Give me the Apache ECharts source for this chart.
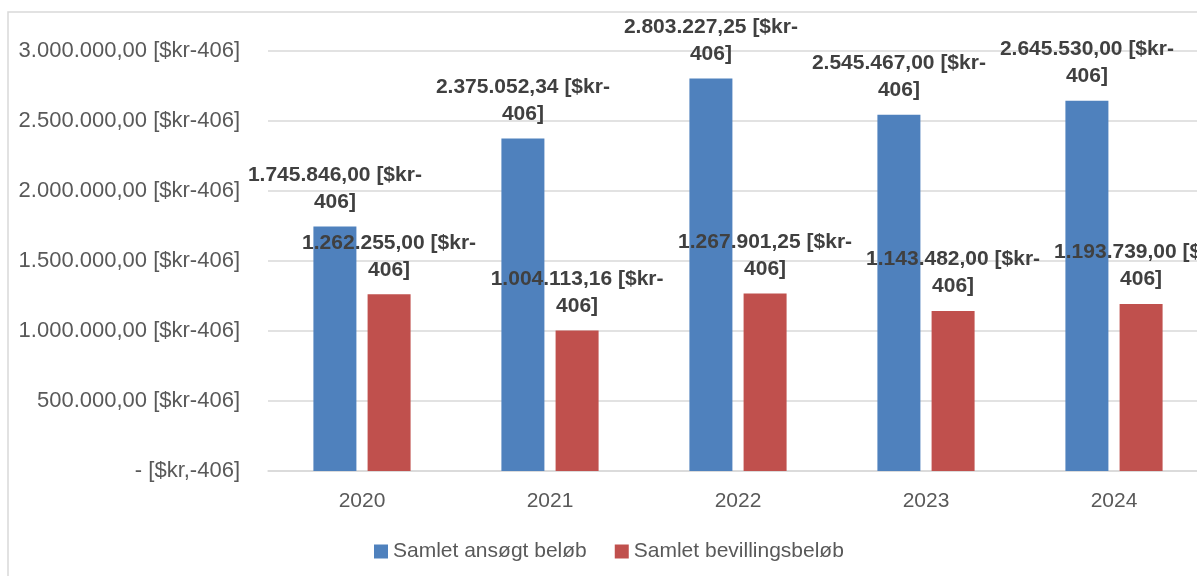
<!DOCTYPE html>
<html>
<head>
<meta charset="utf-8">
<script src="https://cdn.jsdelivr.net/npm/echarts@6/dist/echarts.min.js"></script>
<style>html,body{margin:0;padding:0;background:#fff;overflow:hidden;width:1197px;height:576px}#c{width:1220px;height:576px}</style>
</head>
<body>
<div id="c"></div>
<script>
var categories = ['2020', '2021', '2022', '2023', '2024'];
var seriesNames = ['Samlet ansøgt beløb', 'Samlet bevillingsbeløb'];
var appliedValues = [1745846.00, 2375052.34, 2803227.25, 2545467.00, 2645530.00];
var grantedValues = [1262255.00, 1004113.16, 1267901.25, 1143482.00, 1193739.00];
var yMin = 0, yMax = 3000000, yStep = 500000;

function fmt(v) {
  var s = v.toFixed(2);
  var parts = s.split('.');
  var ip = parts[0].replace(/\B(?=(\d{3})+(?!\d))/g, '.');
  return ip + ',' + parts[1];
}

var chart = echarts.init(document.getElementById('c'));
var labelStyle = {
  show: true,
  position: 'top',
  distance: 11,
  color: '#404040',
  fontFamily: 'Liberation Sans',
  fontWeight: 'bold',
  fontSize: 21,
  lineHeight: 27,
  formatter: function (p) { return fmt(p.value) + ' [$kr-\n406]'; }
};
chart.setOption({
  animation: false,
  graphic: [{
    type: 'rect',
    shape: { x: 8, y: 12, width: 1400, height: 800 },
    style: { fill: 'none', stroke: '#d9d9d9', lineWidth: 1.5 },
    silent: true
  }],
  grid: { left: 268, width: 940, top: 51, bottom: 105, containLabel: false },
  legend: {
    data: seriesNames,
    left: 369,
    top: 536,
    itemWidth: 14,
    itemHeight: 14,
    itemGap: 28,
    icon: 'rect',
    textStyle: { color: '#595959', fontSize: 21, fontFamily: 'Liberation Sans' }
  },
  xAxis: {
    type: 'category',
    data: categories,
    axisLine: { lineStyle: { color: '#d9d9d9', width: 1.5 } },
    axisTick: { show: false },
    axisLabel: { color: '#595959', fontSize: 21, fontFamily: 'Liberation Sans', margin: 20 }
  },
  yAxis: {
    type: 'value',
    min: yMin, max: yMax, interval: yStep,
    axisLine: { show: false },
    axisTick: { show: false },
    splitLine: { lineStyle: { color: '#d9d9d9', width: 1.5 } },
    axisLabel: {
      color: '#595959', fontSize: 22, fontFamily: 'Liberation Sans', margin: 28,
      formatter: function (v) { return v === 0 ? '- [$kr,-406]' : fmt(v) + ' [$kr-406]'; }
    }
  },
  series: [
    { name: seriesNames[0], type: 'bar', data: appliedValues, barWidth: 43, barGap: '26%',
      itemStyle: { color: '#4F81BD' }, label: labelStyle },
    { name: seriesNames[1], type: 'bar', data: grantedValues, barWidth: 43,
      itemStyle: { color: '#C0504D' }, label: labelStyle }
  ]
});
</script>
</body>
</html>
